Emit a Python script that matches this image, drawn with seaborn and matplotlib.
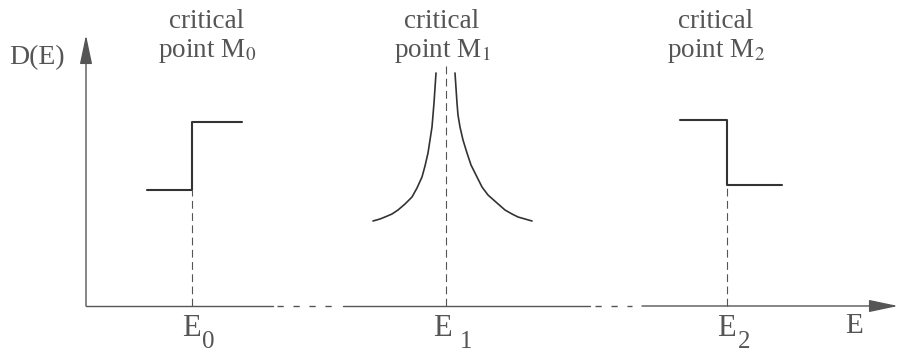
import matplotlib
matplotlib.use('Agg')
import matplotlib.pyplot as plt
import seaborn as sns
import pandas as pd

# critical energies (arbitrary units, origin at the axes corner)
E0, E1, E2 = 10.6, 36.0, 64.1

# M0: step up at E0
m0_E = [6.1, 10.6, 15.6]
m0_D = [11.6, 18.4, 18.4]

# M1: log singularity
m1_left_E = [28.7, 29.4, 29.9, 30.6, 31.2, 31.9, 32.6, 33.1, 33.6,
             33.9, 34.2, 34.4, 34.6, 34.7, 34.8, 34.9, 35.0]
m1_left_D = [8.5, 8.7, 8.9, 9.2, 9.6, 10.2, 10.9, 11.8, 12.9,
             14.0, 15.3, 16.6, 17.9, 19.1, 20.3, 21.8, 23.3]
m1_right_E = [36.9, 37.0, 37.1, 37.2, 37.4, 37.7, 38.1, 38.5, 39.1,
              39.6, 40.2, 41.1, 41.9, 42.6, 43.2, 43.9, 44.6]
m1_right_D = [23.3, 21.8, 20.3, 19.1, 17.9, 16.6, 15.3, 14.1, 12.9,
              11.9, 11.1, 10.3, 9.6, 9.2, 8.9, 8.7, 8.5]

# M2: step down at E2
m2_E = [59.4, 64.1, 69.6]
m2_D = [18.6, 12.1, 12.1]

# height of the dashed markers at each critical point
marker_top = [11.6, 24.1, 12.1]

labels = ['critical\npoint M$_0$', 'critical\npoint M$_1$', 'critical\npoint M$_2$']
subs = ['0', '1', '2']

sns.set_theme(style='white')
plt.rcParams['font.family'] = ['Liberation Serif', 'DejaVu Serif']
plt.rcParams['mathtext.fontset'] = 'stix'

line_col = '#333333'
text_col = '#555555'
axis_col = '#555555'

fig = plt.figure(figsize=(9.04, 3.57), dpi=100)
ax = fig.add_axes([0, 0, 1, 1])
ax.set_xlim(-8.6, 81.8)
ax.set_ylim(-5.1, 30.6)
ax.axis('off')

# curves
m0 = pd.DataFrame({'E': m0_E, 'D': m0_D})
m2 = pd.DataFrame({'E': m2_E, 'D': m2_D})
sns.lineplot(data=m0, x='E', y='D', ax=ax, color=line_col, lw=1.5,
             drawstyle='steps-post', sort=False, estimator=None)
sns.lineplot(data=m2, x='E', y='D', ax=ax, color=line_col, lw=1.5,
             drawstyle='steps-post', sort=False, estimator=None)
sns.lineplot(x=m1_left_E, y=m1_left_D, ax=ax, color=line_col, lw=1.2,
             sort=False, estimator=None)
sns.lineplot(x=m1_right_E, y=m1_right_D, ax=ax, color=line_col, lw=1.2,
             sort=False, estimator=None)

# dashed markers down to the axis
for e, top in zip([E0, E1, E2], marker_top):
    ax.plot([e, e], [0, top], color=axis_col, lw=0.8, dashes=(7, 4))

# axes with breaks
ax.plot([0, 18.7], [0, 0], color=axis_col, lw=1.0)
ax.plot([19.1, 24.7], [0, 0], color=axis_col, lw=1.0, dashes=(4.5, 7))
ax.plot([25.7, 50.4], [0, 0], color=axis_col, lw=1.0)
ax.plot([50.9, 54.6], [0, 0], color=axis_col, lw=1.0, dashes=(4.5, 7))
arrow = dict(arrowstyle='-|>,head_length=1.8,head_width=0.38', color=axis_col,
             lw=1.0, shrinkA=0, shrinkB=0, mutation_scale=10)
ax.annotate('', xy=(81.2, 0), xytext=(55.6, 0), arrowprops=arrow)
ax.annotate('', xy=(0, 27.1), xytext=(0, 0), arrowprops=arrow)

# labels
for e, txt in zip([12.1, 35.6, 63.0], labels):
    ax.text(e, 26.9, txt, ha='center', va='center', fontsize=19.5,
            color=text_col, linespacing=1.15)

ax.text(-4.9, 24.8, 'D(E)', ha='center', va='center', fontsize=20, color=text_col)
ax.text(76.8, -2.0, 'E', ha='center', va='center', fontsize=21, color=text_col)

for e, sub, dx in zip([E0, E1, E2], subs, [1.6, 2.0, 1.7]):
    ax.text(e - 0.1 - (0.3 if sub == '1' else 0), -2.2, 'E', ha='center', va='center',
            fontsize=22, color=text_col)
    ax.text(e + dx, -3.6, sub, ha='center', va='center', fontsize=18, color=text_col)

fig.savefig('out.png', dpi=100)
